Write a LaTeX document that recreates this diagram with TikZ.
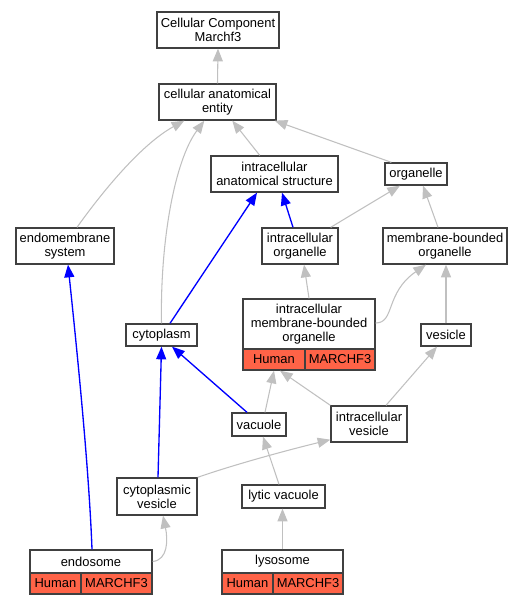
\documentclass[tikz,border=0pt]{standalone}
\usepackage{fontspec}
\setmainfont{Liberation Sans}
\usetikzlibrary{arrows.meta,calc}
\definecolor{boxc}{HTML}{404040}
\definecolor{edgegray}{HTML}{C0C0C0}
\definecolor{hum}{HTML}{FF6347}
\begin{document}
\begin{tikzpicture}[x=0.75pt,y=-0.75pt,
  box/.style={draw=boxc, line width=1pt, fill=white, inner sep=0pt, align=center,
    font=\fontsize{9.7}{10.5}\selectfont},
  wh/.style 2 args={minimum width=#1*0.75pt, minimum height=#2*0.75pt},
  cell/.style={box, fill=hum},
  gedge/.style={draw=edgegray, line width=0.8pt, -{Triangle[length=9.5pt,width=7.5pt]}},
  bedge/.style={draw=blue, line width=1pt, -{Triangle[length=9.5pt,width=7.5pt]}}]
\useasboundingbox (0,0) rectangle (523,605);
% nodes
\node[box,wh={122}{36}] (cc) at (218,30) {Cellular Component\\Marchf3};
\node[box,wh={117}{36}] (cae) at (217.5,102) {cellular anatomical\\entity};
\node[box,wh={127}{36}] (ias) at (274.5,174) {intracellular\\anatomical structure};
\node[box,wh={62}{22}] (org) at (416,174) {organelle};
\node[box,wh={98}{36}] (em) at (65,246) {endomembrane\\system};
\node[box,wh={76}{36}] (io) at (300,246) {intracellular\\organelle};
\node[box,wh={124}{36}] (mbo) at (445,246) {membrane-bounded\\organelle};
\node[box,wh={132}{50}] (imbo) at (309,324) {intracellular\\membrane-bounded\\organelle};
\node[cell,wh={62}{21}] (imboH) at (274,359.5) {Human};
\node[cell,wh={70}{21}] (imboM) at (340,359.5) {MARCHF3};
\node[box,wh={71}{22}] (cyto) at (161.5,335) {cytoplasm};
\node[box,wh={50}{22}] (ves) at (446,335) {vesicle};
\node[box,wh={54}{23}] (vac) at (259,424.5) {vacuole};
\node[box,wh={76}{36}] (iv) at (369,424) {intracellular\\vesicle};
\node[box,wh={80}{37}] (cv) at (157,496.5) {cytoplasmic\\vesicle};
\node[box,wh={83}{23}] (lv) at (283.5,496.5) {lytic vacuole};
\node[box,wh={122}{23}] (endo) at (91,561.5) {endosome};
\node[cell,wh={51}{21}] (endoH) at (55.5,583.5) {Human};
\node[cell,wh={71}{21}] (endoM) at (116.5,583.5) {MARCHF3};
\node[box,wh={121}{23}] (lyso) at (282.5,561.5) {lysosome};
\node[cell,wh={51}{21}] (lysoH) at (247.5,583.5) {Human};
\node[cell,wh={70}{21}] (lysoM) at (308,583.5) {MARCHF3};
% edges
\draw[gedge] (cae.north) -- (cc.south);
\draw[gedge] (ias) -- (cae);
\draw[gedge] ($(org.north west)+(7,0)$) -- ($(cae.south east)+(-2,0)$);
\draw[gedge] ($(em.north)+(12,0)$) .. controls (100,195) and (140,145) .. ($(cae.south west)+(26,0)$);
\draw[gedge] (cyto.north) .. controls (160,240) and (175,160) .. ($(cae.south west)+(46,0)$);
\draw[bedge] ($(io.north)+(-7,0)$) -- ($(ias.south)+(7.5,0)$);
\draw[bedge] ($(cyto.north)+(8.5,0)$) -- ($(ias.south)+(-17.5,0)$);
\draw[gedge] ($(io.north east)+(-8,0)$) -- ($(org.south)+(-16,0)$);
\draw[gedge] ($(mbo.north)+(-7,0)$) -- ($(org.south)+(7,0)$);
\draw[gedge] (imbo.north) -- ($(io.south)+(4,0)$);
\draw[gedge] ($(imbo.east)+(0,-1)$) .. controls (395,323) and (385,293) .. ($(mbo.south)+(-19,0)$);
\draw[gedge] (ves.north) -- (mbo.south -| ves.north);
\draw[bedge] ($(endo.north)+(1,0)$) .. controls (89,470) and (78,360) .. ($(em.south)+(3,0)$);
\draw[bedge] ($(cv.north)+(1,0)$) -- (cyto.south);
\draw[bedge] ($(vac.north)+(-12,0)$) -- ($(cyto.south)+(10.5,0)$);
\draw[gedge] ($(vac.north)+(6,0)$) -- (imboH.south);
\draw[gedge] (iv.north west) -- ($(imboH.south)+(6,0)$);
\draw[gedge] ($(iv.north)+(17,0)$) -- ($(ves.south)+(-9,0)$);
\draw[gedge] (cv.north east) .. controls (230,466) and (280,452) .. ($(iv.south west)+(0,-3)$);
\draw[gedge] ($(lv.north)+(-4.5,0)$) -- ($(vac.south)+(4,0)$);
\draw[gedge] (lyso.north) -- (lyso.north |- lv.south);
\draw[gedge] (endo.east) .. controls (168,560) and (168,540) .. ($(cv.south)+(6,0)$);
\end{tikzpicture}
\end{document}
